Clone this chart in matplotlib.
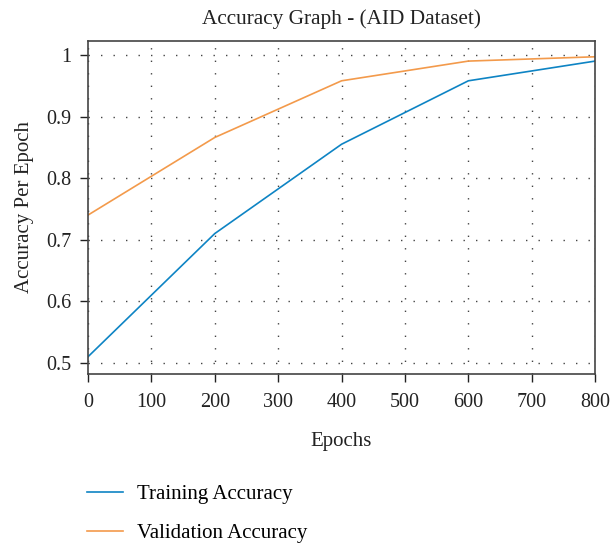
import matplotlib
matplotlib.use("Agg")
import matplotlib.pyplot as plt

epochs = [0, 200, 400, 600, 800]
train_acc = [0.51, 0.71, 0.855, 0.958, 0.99]
val_acc = [0.74, 0.866, 0.958, 0.99, 0.997]
xticks = [0, 100, 200, 300, 400, 500, 600, 700, 800]
yticks = [0.5, 0.6, 0.7, 0.8, 0.9, 1.0]
yticklabels = ["0.5", "0.6", "0.7", "0.8", "0.9", "1"]

plt.rcParams['font.family'] = ['Liberation Serif', 'DejaVu Serif']

fig = plt.figure(figsize=(6.11, 5.46), dpi=100)
ax = fig.add_axes([0.144, 0.315, 0.830, 0.610])

ax.plot(epochs, train_acc, color='#0e84c4', lw=1.2, label='Training Accuracy')
ax.plot(epochs, val_acc, color='#f39a4b', lw=1.2, label='Validation Accuracy')

ax.set_xlim(0, 800)
ax.set_ylim(0.482, 1.0227)
ax.set_xticks(xticks)
ax.set_yticks(yticks)
ax.set_yticklabels(yticklabels)
ax.tick_params(direction='out', length=6, width=1, labelsize=14.5, colors='#222222')
ax.tick_params(axis='x', pad=8)
ax.tick_params(axis='y', pad=6)
ax.grid(True, linestyle=(0, (1, 8)), color='#444444', lw=1)
for s in ax.spines.values():
    s.set_color('#444444')
    s.set_linewidth(1.2)

ax.set_title('Accuracy Graph - (AID Dataset)', fontsize=15.3, color='#222222', pad=12)
ax.set_xlabel('Epochs', fontsize=15, color='#222222', labelpad=14)
ax.set_ylabel('Accuracy Per Epoch', fontsize=15, color='#222222', labelpad=9)

fig.legend(loc='upper left', bbox_to_anchor=(0.129, 0.128), frameon=False,
           fontsize=15, handlelength=1.7, labelspacing=0.95, handletextpad=0.7,
           borderaxespad=0)

fig.savefig('out.png', dpi=100)
